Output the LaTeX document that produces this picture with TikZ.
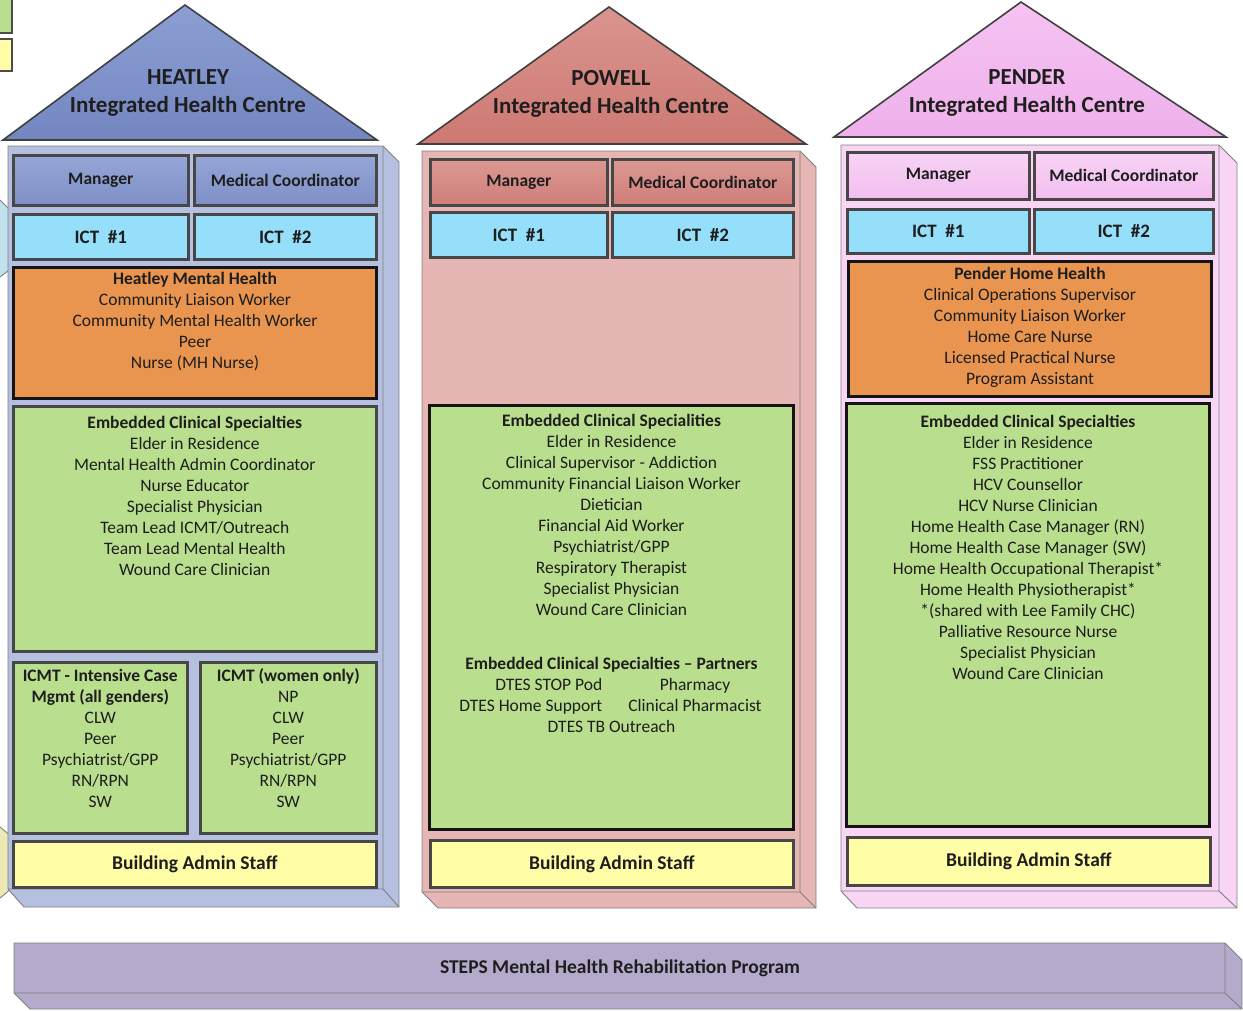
\documentclass[tikz,border=0pt]{standalone}
\usepackage{fontspec}
\setmainfont{Carlito}
\usetikzlibrary{positioning}

\definecolor{hRoofT}{HTML}{8C9FD4}
\definecolor{hRoofB}{HTML}{7386C0}
\definecolor{hBody}{HTML}{B5BFDF}
\definecolor{hMgrT}{HTML}{95A6D6}
\definecolor{hMgrB}{HTML}{7D8FC6}
\definecolor{pRoofT}{HTML}{DA958F}
\definecolor{pRoofB}{HTML}{CD7972}
\definecolor{pBody}{HTML}{E6B6B4}
\definecolor{pMgrT}{HTML}{DC9893}
\definecolor{pMgrB}{HTML}{CF7E79}
\definecolor{nRoofT}{HTML}{F5C3F2}
\definecolor{nRoofB}{HTML}{EFB0EB}
\definecolor{nBody}{HTML}{F8D5F4}
\definecolor{nMgrT}{HTML}{F8D3F5}
\definecolor{nMgrB}{HTML}{F2BDEE}
\definecolor{ictC}{HTML}{96DFFB}
\definecolor{orng}{HTML}{E9954F}
\definecolor{grn}{HTML}{B9DF8E}
\definecolor{yel}{HTML}{FFFDA6}
\definecolor{barC}{HTML}{B5AACB}
\definecolor{fragB}{HTML}{BFE2EC}
\definecolor{fragY}{HTML}{ECE9B4}
\definecolor{ink}{HTML}{1E1E1E}

\tikzset{t/.style={font=\fontsize{17.5}{21}\selectfont, align=center, inner sep=0pt, text=ink}}
\tikzset{title/.style={font=\bfseries\fontsize{23}{28}\selectfont, align=center, inner sep=0pt, text=ink}}
\tikzset{roof/.style={draw=black!75, line width=1.6pt}}
\tikzset{slab/.style={draw=black!50, line width=0.9pt, line join=bevel}}
\tikzset{cell/.style={draw=black!72, line width=2.6pt, anchor=north west, inner sep=0pt,
    font=\bfseries\fontsize{17.5}{20}\selectfont, text=ink}}
\tikzset{ictcell/.style={cell, fill=ictC, font=\bfseries\fontsize{19}{20}\selectfont}}
\tikzset{admin/.style={cell, fill=yel, font=\bfseries\fontsize{19.5}{20}\selectfont}}
\tikzset{heavy/.style={draw=black!92, line width=3pt}}

\begin{document}
\begin{tikzpicture}[x=1pt,y=-1pt]
  \useasboundingbox (0,0) rectangle (1243,1010);
  % cut off shapes at the left edge
  \draw[draw=black!70, line width=1.5pt, fill=grn] (-10,-5) rectangle (12,33);
  \draw[draw=black!70, line width=1.5pt, fill=yel] (-10,39) rectangle (12,71);
  \draw[slab, fill=fragB] (-10,200) -- (0,200) -- (12,212) -- (12,268) -- (0,277) -- (-10,277) -- cycle;
  \draw[slab, fill=fragY] (-10,827) -- (0,827) -- (12,837) -- (12,888) -- (0,898) -- (-10,898) -- cycle;

  % Heatley
  \draw[roof, top color=hRoofT, bottom color=hRoofB] (3,140) -- (185,5) -- (377,140) -- cycle;
  \node[title, anchor=north] (hName) at (188,69.5) {HEATLEY\\Integrated Health Centre};
  \draw[slab, fill=hBody] (8,146) -- (383,146) -- (399,162) -- (399,907) -- (24,907) -- (8,889) -- cycle;
  \draw[slab] (383,146) -- (383,889) -- (8,889) (383,889) -- (399,907);
  \node[cell, top color=hMgrT, bottom color=hMgrB, minimum width=175, minimum height=50] (hMgr) at (12,154) {Manager};
  \node[cell, top color=hMgrT, bottom color=hMgrB, minimum width=182, minimum height=50] (hMed) at (193,154) {Medical Coordinator};
  \node[ictcell, minimum width=175, minimum height=45] (hIct1) at (12,213) {ICT~~\#1};
  \node[ictcell, minimum width=182, minimum height=45] (hIct2) at (193,213) {ICT~~\#2};
  \node[cell, heavy, fill=orng, minimum width=363, minimum height=131] (hMH) at (12,266) {};
  \node[t, anchor=north] (hMHtxt) at ([yshift=-6.5pt]hMH.north)
    {\textbf{Heatley Mental Health}\\Community Liaison Worker\\Community Mental Health Worker\\Peer\\Nurse (MH Nurse)};
  \node[cell, fill=grn, minimum width=363, minimum height=245] (hSpec) at (12,405) {};
  \node[t, anchor=north] (hSpectxt) at ([yshift=-10.5pt]hSpec.north)
    {\textbf{Embedded Clinical Specialties}\\Elder in Residence\\Mental Health Admin Coordinator\\Nurse Educator\\
     Specialist Physician\\Team Lead ICMT/Outreach\\Team Lead Mental Health\\Wound Care Clinician};
  \node[cell, fill=grn, minimum width=174, minimum height=171] (hIcmt) at (12,661) {};
  \node[t, anchor=north] (hIcmttxt) at ([yshift=-8.5pt]hIcmt.north)
    {\textbf{ICMT - Intensive Case}\\\textbf{Mgmt (all genders)}\\CLW\\Peer\\Psychiatrist/GPP\\RN/RPN\\SW};
  \node[cell, fill=grn, minimum width=176, minimum height=171] (hWomen) at (199,661) {};
  \node[t, anchor=north] (hWomentxt) at ([yshift=-7.5pt]hWomen.north)
    {\textbf{ICMT (women only)}\\NP\\CLW\\Peer\\Psychiatrist/GPP\\RN/RPN\\SW};
  \node[admin, minimum width=363, minimum height=46] (hAdmin) at (12,840) {Building Admin Staff};

  % Powell
  \draw[roof, top color=pRoofT, bottom color=pRoofB] (418,144) -- (609,7) -- (806,144) -- cycle;
  \node[title, anchor=north] (pName) at (611,70.5) {POWELL\\Integrated Health Centre};
  \draw[slab, fill=pBody] (422,151) -- (800,151) -- (816,167) -- (816,908) -- (438,908) -- (422,892) -- cycle;
  \draw[slab] (800,151) -- (800,892) -- (422,892) (800,892) -- (816,908);
  \node[cell, top color=pMgrT, bottom color=pMgrB, minimum width=177, minimum height=46] (pMgr) at (429,158) {Manager};
  \node[cell, top color=pMgrT, bottom color=pMgrB, minimum width=181, minimum height=46] (pMed) at (611,158) {Medical Coordinator};
  \node[ictcell, minimum width=177, minimum height=45] (pIct1) at (429,211) {ICT~~\#1};
  \node[ictcell, minimum width=181, minimum height=45] (pIct2) at (611,211) {ICT~~\#2};
  \node[cell, heavy, fill=grn, minimum width=364, minimum height=424] (pSpec) at (428,404) {};
  \node[t, anchor=north] (pSpectxt) at ([yshift=-9.5pt]pSpec.north)
    {\textbf{Embedded Clinical Specialities}\\Elder in Residence\\Clinical Supervisor - Addiction\\
     Community Financial Liaison Worker\\Dietician\\Financial Aid Worker\\Psychiatrist/GPP\\
     Respiratory Therapist\\Specialist Physician\\Wound Care Clinician};
  \node[t, anchor=north] (pPartners) at ([yshift=-250.5pt]pSpec.north)
    {\begin{tabular}{@{}r@{\hspace{24pt}}c@{}}
       \multicolumn{2}{c}{\bfseries Embedded Clinical Specialties -- Partners}\\
       DTES STOP Pod & Pharmacy\\
       DTES Home Support & Clinical Pharmacist\\
       \multicolumn{2}{c}{DTES TB Outreach}
     \end{tabular}};
  \node[admin, minimum width=363, minimum height=47] (pAdmin) at (429,839) {Building Admin Staff};

  % Pender
  \draw[roof, top color=nRoofT, bottom color=nRoofB] (834,137) -- (1021,2) -- (1226,137) -- cycle;
  \node[title, anchor=north] (nName) at (1027,69.5) {PENDER\\Integrated Health Centre};
  \draw[slab, fill=nBody] (841,145) -- (1219,145) -- (1237,163) -- (1237,908) -- (857,908) -- (841,891) -- cycle;
  \draw[slab] (1219,145) -- (1219,891) -- (841,891) (1219,891) -- (1237,908);
  \node[cell, top color=nMgrT, bottom color=nMgrB, minimum width=182, minimum height=47] (nMgr) at (846,151) {Manager};
  \node[cell, top color=nMgrT, bottom color=nMgrB, minimum width=179, minimum height=47] (nMed) at (1033,151) {Medical Coordinator};
  \node[ictcell, minimum width=182, minimum height=44] (nIct1) at (846,208) {ICT~~\#1};
  \node[ictcell, minimum width=179, minimum height=44] (nIct2) at (1033,208) {ICT~~\#2};
  \node[cell, heavy, fill=orng, minimum width=363, minimum height=135] (nHome) at (847,260) {};
  \node[t, anchor=north] (nHometxt) at ([yshift=-7.5pt]nHome.north)
    {\textbf{Pender Home Health}\\Clinical Operations Supervisor\\Community Liaison Worker\\Home Care Nurse\\
     Licensed Practical Nurse\\Program Assistant};
  \node[cell, heavy, fill=grn, minimum width=363, minimum height=423] (nSpec) at (845,402) {};
  \node[t, anchor=north] (nSpectxt) at ([yshift=-12.5pt]nSpec.north)
    {\textbf{Embedded Clinical Specialties}\\Elder in Residence\\FSS Practitioner\\HCV Counsellor\\
     HCV Nurse Clinician\\Home Health Case Manager (RN)\\Home Health Case Manager (SW)\\
     Home Health Occupational Therapist*\\Home Health Physiotherapist*\\*(shared with Lee Family CHC)\\
     Palliative Resource Nurse\\Specialist Physician\\Wound Care Clinician};
  \node[admin, minimum width=363, minimum height=48] (nAdmin) at (846,836) {Building Admin Staff};

  % STEPS bar
  \draw[slab, fill=barC] (14,943) -- (1225,943) -- (1242,960) -- (1242,1009) -- (30,1009) -- (14,993) -- cycle;
  \draw[slab] (1225,943) -- (1225,993) -- (14,993) (1225,993) -- (1242,1009);
  \node[font=\bfseries\fontsize{19.5}{20}\selectfont, text=ink] (steps) at (620,968)
    {STEPS Mental Health Rehabilitation Program};
\end{tikzpicture}
\end{document}
